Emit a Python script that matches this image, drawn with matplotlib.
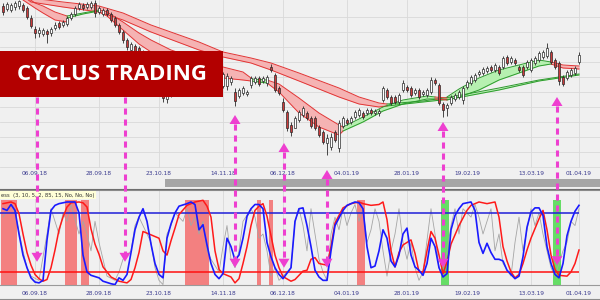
import matplotlib
matplotlib.use("Agg")
import matplotlib.pyplot as plt
from matplotlib.patches import Rectangle, Polygon
from matplotlib.lines import Line2D

# --- price candles (one per trading day) ---
opens = [58.1, 57.8, 57.7, 58.0, 58.1, 58.2, 57.9, 56.9, 55.8, 55.4, 55.3, 55.6, 55.4, 55.9, 56.4,
         56.2, 56.3, 56.9, 57.3, 57.9, 58.2, 58.0, 58.0, 58.4, 57.5, 57.3, 57.7, 57.3, 56.9, 56.2,
         55.5, 54.7, 53.7, 54.1, 53.9, 53.5, 52.9, 52.2, 51.7, 50.9, 49.9, 48.8, 49.2, 49.5, 49.9,
         50.5, 50.3, 50.5, 50.9, 51.1, 51.3, 51.7, 51.5, 51.3, 51.1, 50.1, 50.1, 50.5, 49.5, 49.1,
         49.4, 49.3, 50.2, 50.5, 50.9, 50.6, 50.4, 52.0, 51.2, 49.9, 48.5, 47.5, 46.2, 45.9, 46.7,
         47.2, 47.4, 46.9, 46.9, 46.0, 45.5, 44.4, 44.0, 45.5, 43.9, 46.1, 46.7, 46.5, 47.0, 47.2,
         47.4, 47.4, 47.7, 47.4, 47.4, 48.7, 49.7, 49.0, 49.0, 48.5, 49.7, 50.0, 49.9, 49.4, 49.7,
         49.3, 49.2, 49.5, 50.7, 50.2, 48.3, 47.9, 48.4, 48.8, 49.0, 48.7, 50.0, 50.4, 50.7, 51.3,
         51.4, 51.6, 52.0, 51.7, 52.0, 52.0, 53.0, 52.5, 52.7, 52.0, 52.0, 52.0, 51.7, 52.4, 52.7,
         53.0, 53.1, 53.5, 52.7, 52.4, 51.0, 50.9, 51.2, 51.4, 52.5]
highs = [58.4, 58.5, 58.4, 58.6, 58.7, 58.4, 58.1, 57.2, 56.1, 56.0, 55.9, 55.8, 56.0, 56.5, 56.6,
         56.7, 57.1, 57.5, 58.1, 58.5, 58.4, 58.5, 58.6, 58.7, 58.1, 57.9, 57.9, 57.5, 57.1, 56.4,
         55.7, 54.9, 54.5, 54.3, 54.1, 53.7, 53.1, 52.4, 51.9, 51.1, 50.1, 49.7, 50.1, 50.4, 50.9,
         50.7, 51.1, 51.3, 51.7, 51.9, 52.1, 51.9, 51.7, 51.5, 51.3, 51.5, 51.4, 51.1, 49.9, 49.9,
         50.1, 49.7, 51.1, 51.1, 51.1, 51.1, 51.2, 52.3, 51.4, 50.1, 48.9, 47.7, 46.5, 47.1, 47.7,
         48.1, 47.6, 47.1, 47.1, 46.2, 45.7, 45.3, 45.4, 45.7, 46.7, 47.1, 46.9, 47.1, 47.7, 47.9,
         47.6, 47.9, 47.9, 47.8, 47.8, 50.1, 49.9, 49.2, 49.2, 49.4, 50.7, 50.2, 50.1, 49.9, 49.9,
         49.7, 49.9, 51.0, 50.9, 50.4, 48.5, 48.4, 49.2, 49.4, 49.7, 50.1, 50.7, 51.2, 51.4, 51.7,
         52.0, 52.1, 52.2, 52.4, 52.2, 53.1, 53.2, 53.1, 52.9, 52.2, 52.2, 52.7, 52.9, 53.1, 53.6,
         53.7, 54.4, 53.7, 52.9, 52.6, 51.2, 51.7, 51.9, 52.1, 53.5]
lows = [57.2, 57.6, 57.5, 57.7, 57.8, 57.5, 56.8, 55.9, 54.9, 55.0, 55.1, 54.4, 55.1, 55.7, 55.8,
        56.0, 56.1, 56.7, 57.1, 57.7, 57.7, 57.8, 57.8, 57.0, 57.3, 57.1, 57.1, 56.5, 56.0, 55.3,
        54.4, 53.7, 53.5, 53.3, 53.0, 52.5, 51.7, 51.3, 50.5, 49.5, 48.5, 48.4, 49.0, 49.3, 49.7,
        49.7, 50.1, 50.3, 50.7, 50.9, 51.1, 50.8, 50.5, 50.3, 50.1, 49.9, 49.7, 50.2, 48.1, 48.9,
        49.2, 49.1, 49.9, 50.3, 50.1, 50.4, 50.1, 51.5, 49.5, 49.2, 47.5, 45.6, 45.1, 45.9, 46.5,
        47.0, 46.7, 45.9, 45.7, 45.0, 44.3, 43.2, 43.7, 44.5, 43.5, 45.9, 46.2, 46.3, 46.8, 47.0,
        46.8, 47.2, 47.2, 47.2, 47.1, 48.5, 48.8, 48.2, 48.3, 48.3, 49.5, 49.5, 49.0, 49.2, 48.8,
        49.1, 49.0, 49.3, 50.2, 48.2, 47.0, 47.1, 48.2, 48.6, 48.8, 48.3, 49.8, 50.2, 50.5, 51.1,
        51.2, 51.4, 51.5, 51.5, 51.2, 51.8, 52.2, 52.3, 52.2, 51.5, 51.0, 51.8, 51.5, 52.2, 52.5,
        52.8, 52.9, 52.3, 51.8, 50.2, 50.1, 50.7, 51.0, 51.2, 52.3]
closes = [57.5, 58.3, 58.2, 58.4, 58.6, 57.7, 57.0, 56.1, 55.4, 55.7, 55.7, 55.3, 55.8, 56.2, 56.0,
          56.5, 56.9, 57.3, 57.9, 58.3, 57.9, 58.3, 58.4, 57.4, 57.9, 57.7, 57.3, 56.7, 56.2, 55.5,
          54.7, 54.0, 54.3, 53.6, 53.2, 52.7, 51.9, 51.5, 50.7, 49.7, 48.9, 49.5, 49.9, 50.2, 50.7,
          49.9, 50.9, 51.1, 51.5, 51.7, 51.9, 51.0, 50.7, 50.5, 50.3, 51.3, 51.1, 50.9, 48.6, 49.7,
          49.9, 49.5, 50.9, 50.9, 50.3, 50.9, 51.0, 51.7, 49.7, 49.4, 47.7, 45.9, 45.5, 46.9, 47.5,
          47.9, 46.9, 46.1, 45.9, 45.2, 44.5, 44.9, 45.0, 44.7, 46.4, 46.9, 46.4, 46.9, 47.5, 47.7,
          47.0, 47.7, 47.4, 47.6, 47.6, 49.9, 49.0, 48.4, 48.5, 49.2, 50.4, 49.7, 49.2, 49.7, 49.0,
          49.5, 49.7, 50.7, 50.4, 48.4, 47.7, 48.2, 49.0, 49.2, 49.5, 49.9, 50.5, 51.0, 51.2, 51.5,
          51.8, 51.9, 51.7, 52.2, 51.4, 52.9, 52.4, 52.9, 52.4, 51.7, 51.2, 52.5, 52.7, 52.9, 53.4,
          53.5, 53.9, 52.5, 52.0, 50.6, 50.3, 51.5, 51.7, 51.9, 53.2]

date_labels = ["06.09.18", "28.09.18", "23.10.18", "14.11.18", "06.12.18",
               "04.01.19", "28.01.19", "19.02.19", "13.03.19", "01.04.19"]
date_bars = [8, 24, 39, 55, 70, 86, 101, 116, 132, 144]
price_grid = [57.0, 55.5, 54.0, 52.5, 51.0, 49.5, 48.0, 46.5, 45.0, 43.5, 42.0]

# --- moving average ribbons: (bars, upper edge, lower edge, trend) ---
fast_band = [
    ([5, 8, 10, 13, 16], [59.2, 58.4, 58.1, 57.5, 57.1], [58.7, 57.9, 57.4, 56.7, 56.5], "down"),
    ([16, 20, 24], [57.1, 57.4, 57.7], [56.9, 57.3, 57.6], "up"),
    ([24, 26, 30, 34, 37, 42, 48, 55, 60, 62],
     [57.7, 57.5, 56.5, 55.4, 54.7, 53.7, 52.9, 52.0, 51.5, 50.9],
     [57.5, 57.1, 55.7, 54.3, 53.5, 52.5, 51.7, 50.9, 50.7, 50.6], "down"),
    ([62, 66], [50.8, 50.7], [50.6, 50.4], "up"),
    ([66, 69, 74, 79, 84, 85], [50.7, 50.3, 48.9, 47.4, 46.2, 46.0],
     [50.4, 49.5, 47.4, 46.0, 45.2, 45.6], "down"),
    ([85, 90, 95, 100, 106, 108], [46.0, 47.0, 48.0, 48.7, 49.1, 49.0],
     [45.6, 46.5, 47.6, 48.3, 48.8, 48.8], "up"),
    ([108, 111], [49.0, 48.9], [48.8, 48.7], "down"),
    ([111, 114, 119, 124, 129, 134, 137], [49.0, 49.8, 50.9, 51.7, 52.2, 52.7, 52.5],
     [48.7, 49.0, 49.7, 50.7, 51.4, 52.1, 52.3], "up"),
    ([137, 140, 144], [52.5, 52.2, 52.1], [52.3, 51.9, 51.8], "down"),
]
slow_band = [
    ([5, 7, 15, 24, 30, 37, 49, 55, 62, 67, 74, 84, 89, 94, 96],
     [59.7, 58.9, 58.5, 58.1, 57.4, 56.2, 54.5, 53.5, 52.9, 52.4, 51.4, 49.9, 49.0, 48.4, 48.3],
     [59.1, 58.5, 58.0, 57.5, 56.7, 55.5, 53.7, 53.0, 52.4, 51.7, 50.6, 49.0, 48.3, 48.0, 48.1], "down"),
    ([96, 105, 112, 124, 134, 144], [48.3, 48.6, 49.0, 49.9, 50.7, 51.3],
     [48.1, 48.5, 48.8, 49.7, 50.6, 51.2], "up"),
]

# --- oscillator (bar, value) ---
blue_pts = [(0, 90), (1, 88), (2, 95), (3, 88), (4, 60), (5, 35), (6, 20), (7, 8), (8, 3), (9, 2),
            (10, 5), (11, 53), (12, 88), (13, 94), (14, 96), (16, 98), (18, 98), (19, 85), (20, 35),
            (21, 15), (22, 11), (24, 8), (25, 4), (27, 1), (28, 0), (29, 8), (30, 5), (31, 12),
            (32, 38), (33, 65), (34, 80), (35, 90), (36, 75), (37, 48), (38, 25), (39, 12), (40, 8),
            (41, 55), (42, 72), (43, 85), (44, 93), (46, 96), (47, 98), (48, 95), (49, 65), (50, 71),
            (51, 47), (52, 25), (53, 12), (54, 7), (55, 13), (56, 55), (57, 45), (58, 29), (59, 35),
            (60, 55), (61, 81), (62, 90), (63, 95), (64, 95), (65, 90), (66, 50), (67, 33), (68, 20),
            (69, 12), (70, 7), (72, 20), (73, 75), (74, 90), (75, 91), (76, 70), (77, 45), (78, 17),
            (79, 9), (80, 5), (81, 5), (82, 40), (83, 70), (84, 79), (85, 88), (86, 94), (88, 98),
            (89, 97), (90, 90), (91, 45), (92, 20), (93, 22), (94, 40), (95, 65), (96, 55), (97, 28),
            (98, 21), (99, 35), (100, 60), (101, 67), (102, 35), (103, 21), (104, 17), (105, 11),
            (106, 25), (107, 55), (108, 45), (109, 20), (110, 9), (111, 13), (112, 65), (113, 82),
            (114, 90), (115, 96), (117, 98), (118, 88), (119, 50), (120, 37), (121, 49), (122, 38),
            (123, 30), (124, 30), (125, 28), (126, 17), (127, 12), (128, 7), (129, 10), (130, 33),
            (131, 68), (132, 86), (133, 91), (134, 91), (135, 82), (136, 45), (137, 25), (138, 12),
            (139, 8), (140, 25), (141, 58), (142, 75), (143, 87), (144, 94)]
red_pts = [(0, 96), (2, 98), (3, 96), (4, 84), (5, 60), (6, 38), (7, 23), (8, 12), (9, 7), (10, 4),
           (11, 6), (12, 20), (13, 41), (14, 65), (15, 80), (16, 92), (17, 97), (19, 98), (20, 97),
           (21, 92), (22, 66), (23, 48), (24, 36), (25, 21), (27, 9), (29, 4), (31, 2), (32, 6),
           (33, 20), (34, 38), (35, 63), (36, 61), (38, 57), (39, 55), (40, 40), (41, 35), (42, 52),
           (43, 67), (44, 83), (46, 94), (48, 98), (50, 100), (51, 93), (52, 80), (53, 40), (54, 18),
           (55, 13), (57, 9), (58, 2), (59, 7), (60, 25), (61, 45), (62, 70), (63, 88), (64, 93),
           (65, 96), (66, 81), (67, 58), (68, 35), (69, 20), (70, 9.5), (72, 4), (73, 6), (74, 11),
           (75, 16), (76, 17), (77, 30), (78, 32), (79, 25), (81, 23), (82, 45), (83, 73), (85, 91),
           (87, 96), (89, 98), (90, 96), (92, 94), (94, 95), (95, 98), (96, 77), (97, 40), (98, 21),
           (99, 38), (100, 47), (102, 53), (103, 37), (104, 15), (105, 15), (106, 40), (107, 63),
           (108, 55), (109, 35), (110, 13), (111, 27), (112, 48), (114, 70), (116, 88), (117, 94),
           (119, 98), (121, 96), (123, 98), (124, 80), (125, 45), (126, 28), (127, 15), (128, 8),
           (129, 12), (130, 25), (131, 41), (132, 55), (134, 78), (135, 88), (136, 65), (137, 35),
           (138, 18), (139, 11), (141, 10), (142, 15), (143, 25), (144, 41)]
grey_pts = [(0, 80), (2, 95), (3, 85), (5, 40), (6, 20), (7, 10), (9, 5), (11, 60), (12, 90), (14, 60),
            (15, 85), (16, 75), (17, 95), (19, 60), (20, 75), (21, 60), (22, 40), (23, 75), (24, 50),
            (25, 30), (26, 10), (28, 5), (29, 15), (30, 30), (32, 40), (33, 70), (34, 80), (36, 60),
            (37, 50), (38, 20), (39, 5), (40, 0), (41, 60), (42, 70), (43, 85), (45, 75), (46, 90),
            (47, 70), (48, 80), (49, 60), (50, 75), (51, 40), (52, 30), (54, 15), (55, 45), (56, 70),
            (57, 30), (58, 20), (59, 40), (60, 75), (62, 90), (63, 80), (64, 55), (65, 60), (66, 40),
            (67, 10), (68, 20), (69, 5), (71, 15), (72, 20), (73, 75), (74, 90), (75, 70), (76, 40),
            (77, 90), (78, 60), (79, 30), (80, 15), (81, 5), (82, 60), (83, 80), (84, 65), (85, 90),
            (86, 70), (87, 85), (88, 95), (89, 75), (90, 90), (91, 50), (92, 65), (93, 90), (94, 75),
            (95, 40), (96, 10), (97, 40), (98, 60), (99, 90), (100, 50), (101, 30), (102, 50),
            (103, 20), (104, 5), (105, 15), (107, 90), (108, 60), (109, 20), (110, 10), (111, 40),
            (112, 70), (113, 90), (114, 60), (115, 90), (117, 80), (118, 95), (119, 80), (120, 60),
            (122, 90), (123, 40), (124, 60), (125, 25), (127, 10), (128, 50), (129, 80), (130, 40),
            (132, 90), (133, 70), (134, 85), (135, 60), (137, 20), (138, 10), (139, 25), (140, 40),
            (141, 50), (142, 75), (143, 70), (144, 90)]
upper_level, lower_level = 85, 15
sell_bars = [0, 1, 2, 3, 16, 17, 18, 20, 21, 46, 47, 48, 49, 50, 51, 64, 67, 89, 90]
buy_bars = [110, 111, 138, 139]

# --- cycle arrows: bar, top price, head up?, oscillator tip ---
arrow_bars = [8.5, 30.5, 58, 70.25, 81, 110, 138.5]
arrow_tops = [49.0, 49.0, 47.2, 44.4, 41.7, 46.5, 49.0]
arrow_up = [False, False, True, True, True, True, True]
arrow_tips = [27, 27, 20, 20, 20, 20, 23]

BG = "#f0f0f0"
GRID = "#d9d9d9"
LABEL = "#3b3b8f"
MAG = "#ee3fd0"

fig = plt.figure(figsize=(6, 3), dpi=100, facecolor=BG)


def fy(py):
    return 1 - py / 300.0


ax_top = fig.add_axes([0, fy(168), 1, 168 / 300.0], facecolor=BG)
ax_bot = fig.add_axes([0, fy(285), 1, 95 / 300.0], facecolor=BG)

for ax in (ax_top, ax_bot):
    ax.set_xlim(-0.75, 149.25)
    ax.set_xticks(date_bars)
    ax.set_xticklabels(date_labels)
    for s in ax.spines.values():
        s.set_visible(False)

# price panel
ax_top.set_ylim(41.9, 58.7)
ax_top.set_yticks(price_grid)
ax_top.tick_params(axis="y", left=False, labelleft=False)
ax_top.tick_params(axis="x", length=0, pad=2.2, labelsize=4.2, labelcolor=LABEL)
ax_top.grid(True, color=GRID, lw=0.6, zorder=0)
ax_top.set_axisbelow(True)

band_cols = {"down": ("#f5b3b3", "#e23434"), "up": ("#b6f0b0", "#2c9a2c")}
for bars, hi, lo, trend in slow_band + fast_band:
    fill, edge = band_cols[trend]
    ax_top.fill_between(bars, lo, hi, color=fill, lw=0, zorder=1)
    ax_top.plot(bars, hi, color=edge, lw=0.7, zorder=2)
    ax_top.plot(bars, lo, color=edge, lw=0.7, zorder=2)

n = len(closes)
idx = list(range(n))
ax_top.vlines(idx, lows, highs, color="#2a2a2a", lw=0.6, zorder=3)
bottoms = [min(o, c) for o, c in zip(opens, closes)]
heights = [max(abs(c - o), 0.08) for o, c in zip(opens, closes)]
colors = ["white" if c >= o else "#cc3b3b" for o, c in zip(opens, closes)]
ax_top.bar(idx, heights, bottom=bottoms, width=0.66, color=colors,
           edgecolor="#2a2a2a", linewidth=0.5, zorder=4)

# oscillator panel
ax_bot.set_ylim(-0.5, 112.2)
ax_bot.set_yticks([])
ax_bot.tick_params(axis="x", length=0, pad=4.0, labelsize=4.2, labelcolor=LABEL)
ax_bot.grid(True, axis="x", color=GRID, lw=0.6)
ax_bot.set_axisbelow(True)
ax_bot.spines["top"].set_visible(True)
ax_bot.spines["top"].set_color("#8c8c8c")
ax_bot.spines["bottom"].set_visible(True)
ax_bot.spines["bottom"].set_color("#9a9a9a")

ax_bot.bar(sell_bars, 100.5, bottom=-0.5, width=1.0, color="#f38080", lw=0, zorder=1)
ax_bot.bar(buy_bars, 100.5, bottom=-0.5, width=1.0, color="#66dd66", lw=0, zorder=1)
gx, gv = zip(*grey_pts)
ax_bot.plot(gx, gv, color="#a5a5a5", lw=0.6, zorder=2)
ax_bot.hlines([upper_level], -0.75, n - 1, color="#1f1fd8", lw=1.1, zorder=3)
ax_bot.hlines([lower_level], -0.75, n - 1, color="#ff1010", lw=1.1, zorder=3)
rx, rv = zip(*red_pts)
ax_bot.plot(rx, rv, color="#ff1a1a", lw=1.1, zorder=4)
bx, bv = zip(*blue_pts)
ax_bot.plot(bx, bv, color="#1a1aff", lw=1.2, zorder=5)

fig.text(1 / 600, fy(195), "ess  (3, 10, 5, 2, 85, 15, No, No, No)", fontsize=3.8,
         color="#333333", va="center", ha="left",
         bbox=dict(facecolor="#ffffd8", edgecolor="none", pad=0.9))

# scroll bar strip and separators
fig.add_artist(Rectangle((165 / 600, fy(187)), 435 / 600, 8 / 300, transform=fig.transFigure,
                         facecolor="#a6a6a6", edgecolor="none"))
fig.add_artist(Line2D([0, 1], [fy(189), fy(189)], transform=fig.transFigure, color="#6e6e6e", lw=0.8))
fig.add_artist(Line2D([0, 1], [fy(298.5), fy(298.5)], transform=fig.transFigure, color="#8c8c8c", lw=0.8))


# arrows spanning both panels
def to_fig(ax, x, y):
    return fig.transFigure.inverted().transform(ax.transData.transform((x, y)))


head_w, head_l = 5.5 / 600, 9 / 300
for bar, top, up, tip in zip(arrow_bars, arrow_tops, arrow_up, arrow_tips):
    x0, y_top = to_fig(ax_top, bar, top)
    _, y_tip = to_fig(ax_bot, bar, tip)
    y_start = y_top - head_l if up else y_top
    fig.add_artist(Line2D([x0, x0], [y_start, y_tip + head_l], transform=fig.transFigure,
                          color=MAG, lw=2.2, dashes=(2.0, 1.6), zorder=5))
    fig.add_artist(Polygon([(x0 - head_w, y_tip + head_l), (x0 + head_w, y_tip + head_l), (x0, y_tip)],
                           closed=True, transform=fig.transFigure, facecolor=MAG,
                           edgecolor="none", zorder=5))
    if up:
        fig.add_artist(Polygon([(x0 - head_w, y_top - head_l), (x0 + head_w, y_top - head_l), (x0, y_top)],
                               closed=True, transform=fig.transFigure, facecolor=MAG,
                               edgecolor="none", zorder=5))

# banner
fig.add_artist(Rectangle((0, fy(97)), 223 / 600, 46 / 300, transform=fig.transFigure,
                         facecolor="#b30000", edgecolor="none", zorder=10))
fig.text(111.5 / 600, fy(74), "CYCLUS TRADING", color="white", fontsize=16, fontweight="bold",
         family="Open Sans", ha="center", va="center", zorder=11)

fig.savefig("out.png", dpi=100, facecolor=BG)
